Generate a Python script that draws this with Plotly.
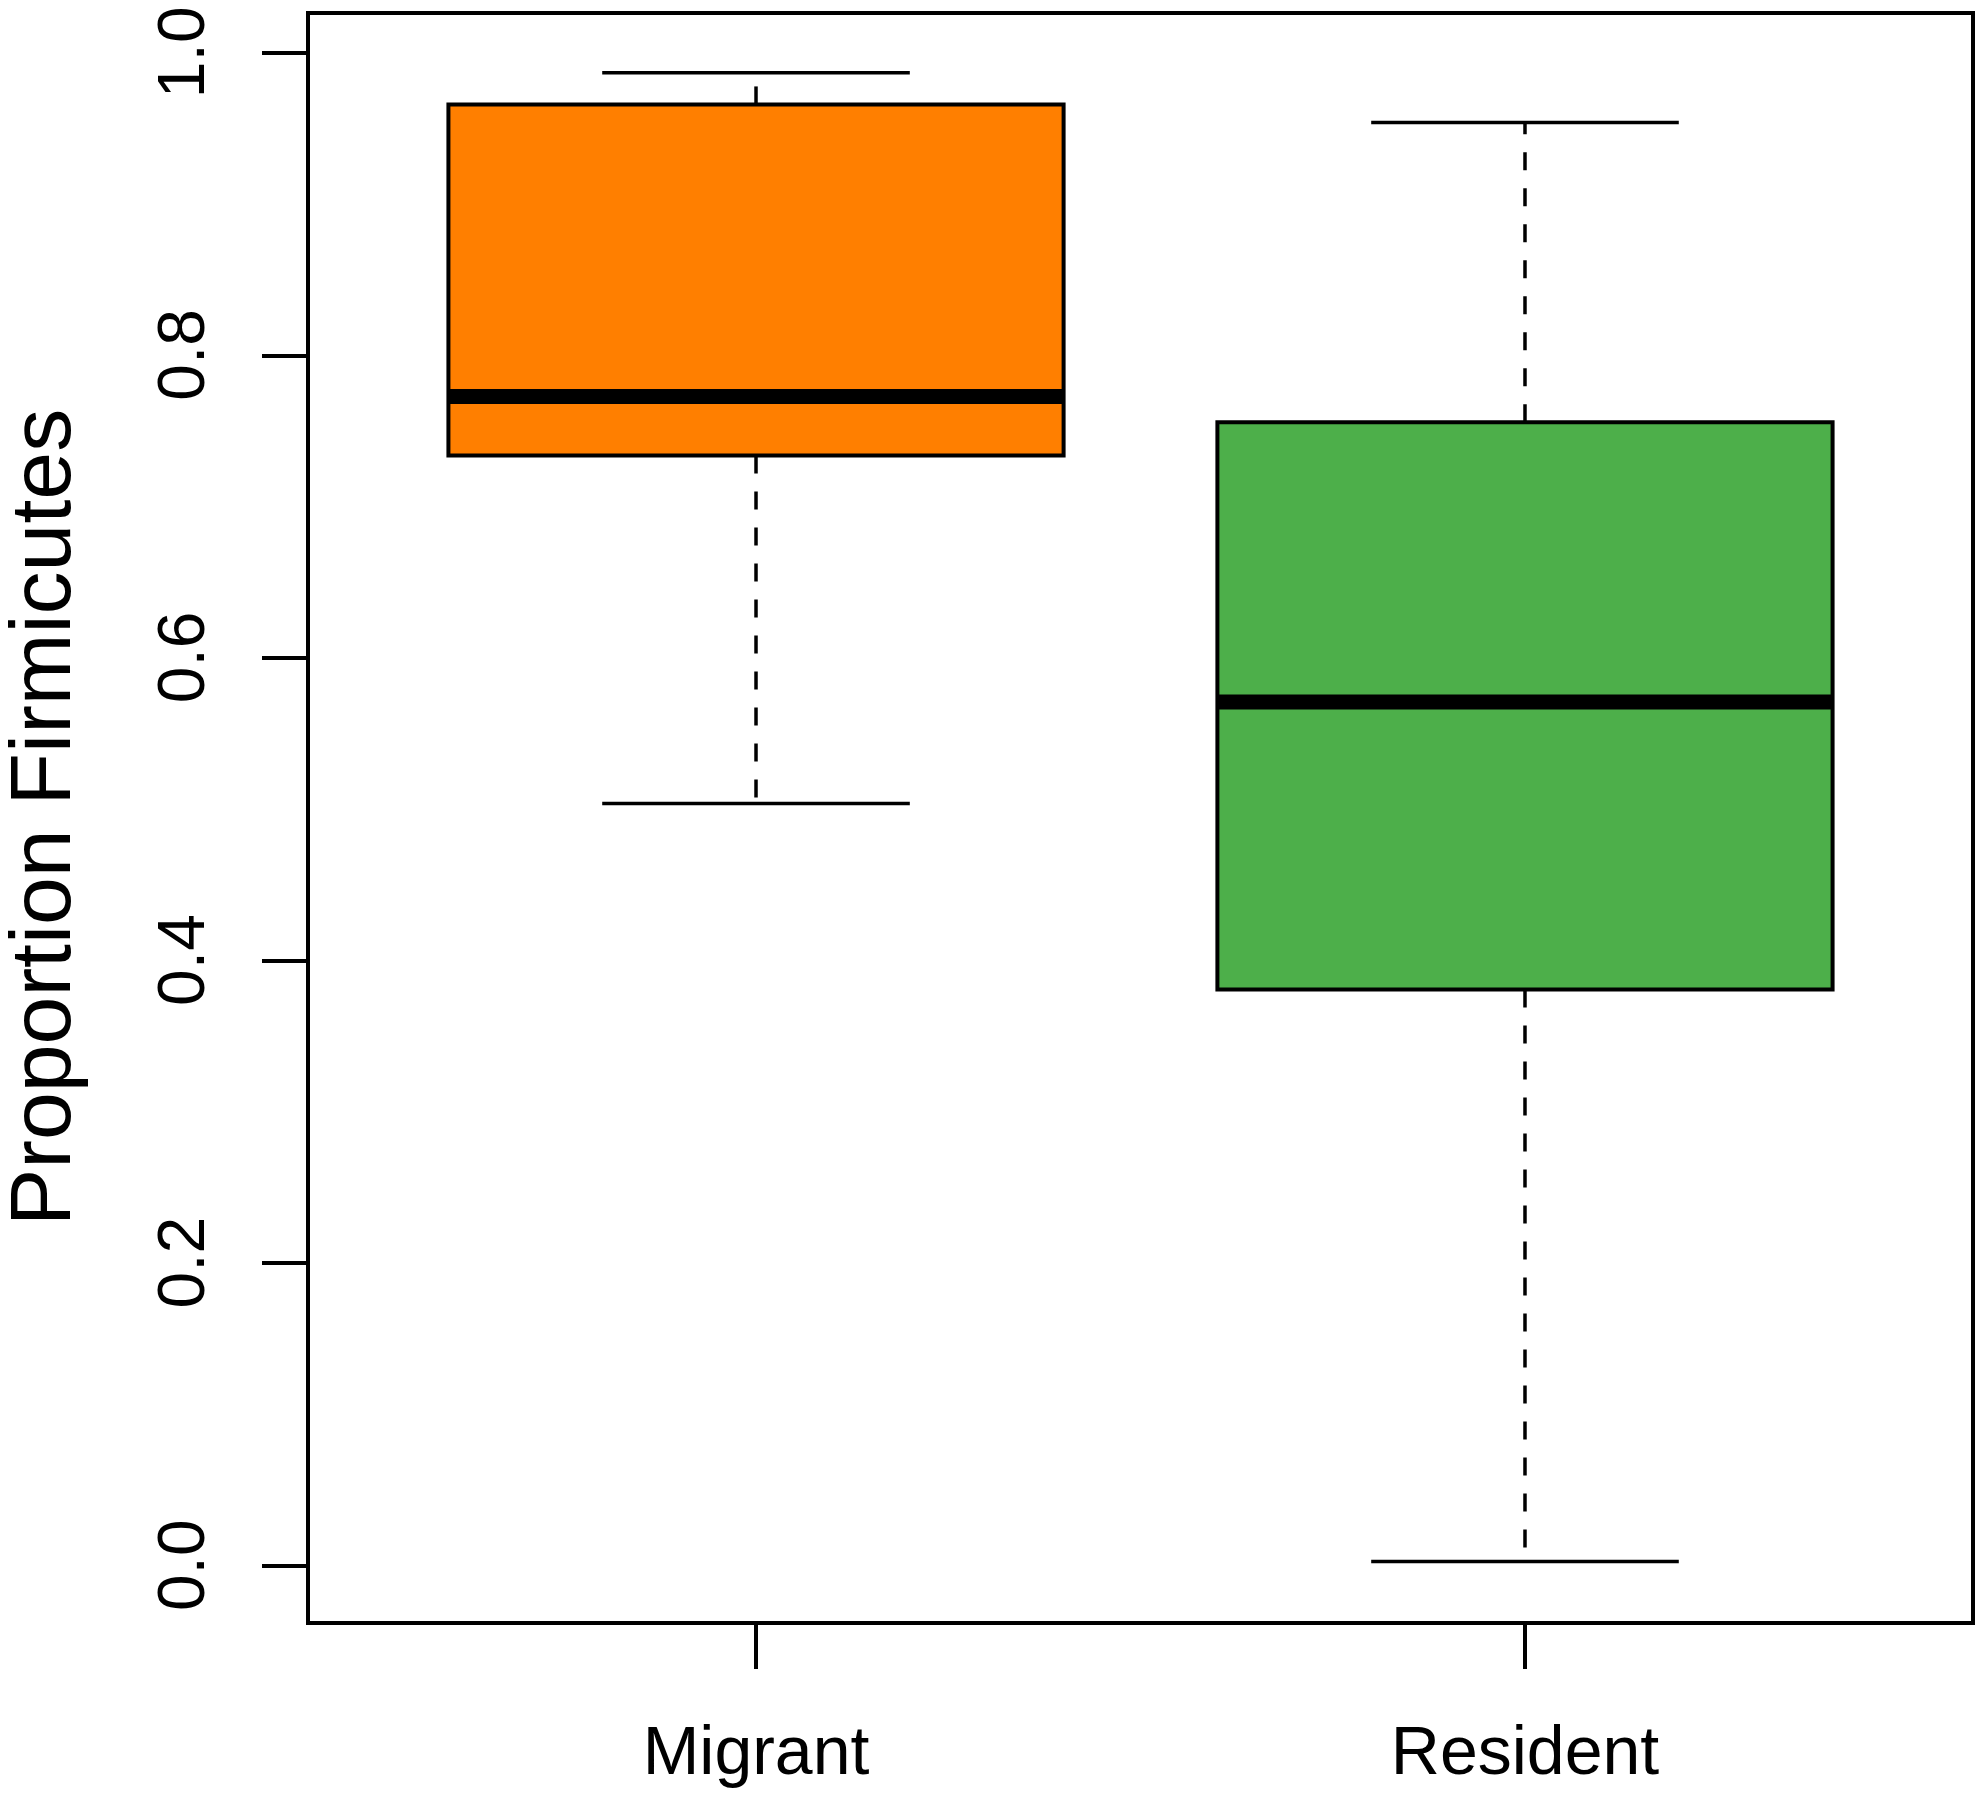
import plotly.graph_objects as go

# box statistics
groups = ["Migrant", "Resident"]
colors = ["#FF7F00", "#4DAF4A"]
lower_whisker = [0.504, 0.003]
q1 = [0.734, 0.381]
median = [0.773, 0.571]
q3 = [0.966, 0.756]
upper_whisker = [0.987, 0.954]

ytick_vals = [0.0, 0.2, 0.4, 0.6, 0.8, 1.0]
ytick_text = ["0.0", "0.2", "0.4", "0.6", "0.8", "1.0"]

xpos = [i + 1 for i in range(len(groups))]
box_w = 0.8
cap_w = 0.4

fig = go.Figure()

# dashed whiskers
for i, x in enumerate(xpos):
    for a, b in [(q3[i], upper_whisker[i]), (q1[i], lower_whisker[i])]:
        fig.add_trace(go.Scatter(x=[x, x], y=[a, b], mode="lines",
                                 line=dict(color="black", width=3.5, dash="18px,18px"),
                                 showlegend=False, hoverinfo="skip"))

# boxes
fig.add_trace(go.Bar(x=xpos, y=[q3[i] - q1[i] for i in range(len(groups))], base=q1,
                     width=box_w, marker=dict(color=colors, line=dict(color="black", width=4)),
                     showlegend=False, hoverinfo="skip"))

# whisker caps and medians
for i, x in enumerate(xpos):
    for v in [upper_whisker[i], lower_whisker[i]]:
        fig.add_trace(go.Scatter(x=[x - cap_w / 2, x + cap_w / 2], y=[v, v], mode="lines",
                                 line=dict(color="black", width=3.5),
                                 showlegend=False, hoverinfo="skip"))
    fig.add_trace(go.Scatter(x=[x - box_w / 2, x + box_w / 2], y=[median[i], median[i]], mode="lines",
                             line=dict(color="black", width=15),
                             showlegend=False, hoverinfo="skip"))

# y title placed as an annotation so it sits where R puts it
fig.add_annotation(text="Proportion Firmicutes", textangle=-90, showarrow=False,
                   xref="paper", yref="paper", x=-0.1625, y=0.5, xanchor="center", yanchor="middle",
                   font=dict(size=86))

# page body adds an 8px offset, so margins are shifted to keep the plot box in place
fig.update_layout(
    width=1983, height=1798,
    margin=dict(l=302, r=20, t=7, b=185),
    plot_bgcolor="white", paper_bgcolor="white",
    font=dict(family="Liberation Sans, Arial, sans-serif", color="black", size=66),
)
fig.update_xaxes(range=[0.42, 2.58], tickvals=xpos, ticktext=groups, automargin=False,
                 showline=True, linecolor="black", linewidth=3.5, mirror=True,
                 ticks="outside", ticklen=44, tickwidth=3.5, tickcolor="black",
                 showgrid=False, zeroline=False, ticklabelstandoff=24,
                 tickfont=dict(size=68))
# trailing no-break space nudges the rotated labels onto the tick centre
fig.update_yaxes(range=[-0.0364, 1.0251], tickvals=ytick_vals,
                 ticktext=[t + "\u00a0" for t in ytick_text], automargin=False,
                 showline=True, linecolor="black", linewidth=3.5, mirror=True,
                 ticks="outside", ticklen=44, tickwidth=3.5, tickcolor="black",
                 showgrid=False, zeroline=False, tickangle=-90, ticklabelstandoff=32,
                 ticklabeloverflow="allow",
                 tickfont=dict(size=66))

fig.write_html("out.html")
